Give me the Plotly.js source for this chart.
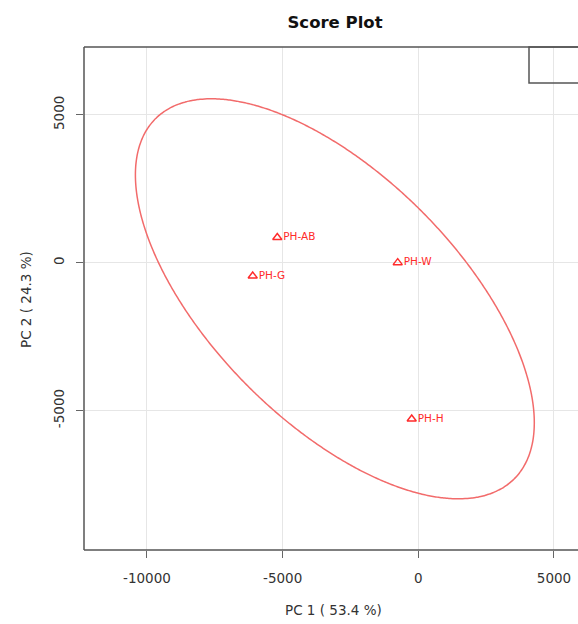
<!DOCTYPE html>
<html>
<head>
<meta charset="utf-8">
<script src="https://cdn.plot.ly/plotly-3.0.1.min.js"></script>
<style>html,body{margin:0;padding:0;background:#fff;}</style>
</head>
<body>
<div id="chart" style="width:578px;height:624px;"></div>
<script>
// Sample scores (PC1, PC2)
const sampleNames = ["PH-AB", "PH-G", "PH-W", "PH-H"];
const pc1Scores = [-5197, -6103, -759, -243];
const pc2Scores = [852, -450, 0, -5286];
const xTicks = [-10000, -5000, 0, 5000];
const yTicks = [-5000, 0, 5000];
const xTickLabels = ["-10000", "-5000", "0", "5000"];
const yTickLabels = ["-5000", "0", "5000"];
const confLevel = 0.95;

// 95% confidence ellipse computed from the score data (as ellipse::ellipse does)
function mean(a){return a.reduce((s,v)=>s+v,0)/a.length;}
const n = pc1Scores.length;
const mx = mean(pc1Scores), my = mean(pc2Scores);
let sxx=0, syy=0, sxy=0;
for(let i=0;i<n;i++){
  const dx=pc1Scores[i]-mx, dy=pc2Scores[i]-my;
  sxx+=dx*dx; syy+=dy*dy; sxy+=dx*dy;
}
sxx/=(n-1); syy/=(n-1); sxy/=(n-1);
const sx=Math.sqrt(sxx), sy=Math.sqrt(syy), r=sxy/(sx*sy);
const t=Math.sqrt(-2*Math.log(1-confLevel)); // sqrt(qchisq(level,2))
const d=Math.acos(r);
const ex=[], ey=[];
for(let k=0;k<=400;k++){
  const a=-Math.PI + 2*Math.PI*k/400;
  ex.push(mx + t*sx*Math.cos(a + d/2));
  ey.push(my + t*sy*Math.cos(a - d/2));
}

const red = '#FF2A2A';
const traces = [
  {x: ex, y: ey, mode:'lines', type:'scatter', line:{color:'#F26B6B', width:1.5, shape:'spline', smoothing:0.6}, hoverinfo:'skip', showlegend:false},
  {x: pc1Scores, y: pc2Scores, text: sampleNames, mode:'markers+text', type:'scatter',
   textposition:'middle right', textfont:{family:'DejaVu Sans', size:10.5, color:red},
   marker:{symbol:'triangle-up-open', size:8, color:red, line:{width:1.4, color:red}},
   showlegend:false}
];

const layout = {
  width:578, height:624,
  margin:{l:84, r:0, t:47, b:74},
  paper_bgcolor:'#fff', plot_bgcolor:'#fff',
  font:{family:'DejaVu Sans', size:11, color:'#333'},
  title:{text:'<b>Score Plot</b>', font:{family:'DejaVu Sans', size:16.5, color:'#111'},
         x:(335-84)/494, xref:'paper', xanchor:'center', y:1-22/624, yref:'container', yanchor:'middle'},
  xaxis:{range:[-12321, 5886], tickvals:xTicks, ticktext:xTickLabels, showgrid:true, gridcolor:'#e6e6e6', gridwidth:1,
         zeroline:false, showline:false, ticks:'outside', ticklen:7, tickcolor:'#666', tickwidth:1,
         tickfont:{family:'DejaVu Sans', size:13.5, color:'#333'}, ticklabelstandoff:9},
  yaxis:{range:[-9716, 7294], tickvals:yTicks, ticktext:yTickLabels, showgrid:true, gridcolor:'#e6e6e6', gridwidth:1,
         zeroline:false, showline:false, ticks:'outside', ticklen:7, tickcolor:'#666', tickwidth:1, tickangle:-90,
         tickfont:{family:'DejaVu Sans', size:13.5, color:'#333'}, ticklabelstandoff:7},
  annotations:[
    {text:'PC 1 ( 53.4 %)', xref:'paper', yref:'paper', x:(333-84)/494, y:(550-610)/503, xanchor:'center', yanchor:'middle',
     showarrow:false, font:{family:'DejaVu Sans', size:13.5, color:'#333'}},
    {text:'PC 2 ( 24.3 %)', xref:'paper', yref:'paper', x:(26-84)/494, y:(550-300)/503, xanchor:'center', yanchor:'middle',
     textangle:-90, showarrow:false, font:{family:'DejaVu Sans', size:13.5, color:'#333'}}
  ],
  shapes:[
    {type:'line', xref:'paper', yref:'paper', x0:0, x1:1.01, y0:1, y1:1, line:{color:'#555', width:1.5}},
    {type:'line', xref:'paper', yref:'paper', x0:0, x1:1.01, y0:0, y1:0, line:{color:'#555', width:1.5}},
    {type:'line', xref:'paper', yref:'paper', x0:0, x1:0, y0:0, y1:1, line:{color:'#555', width:1.5}},
    {type:'rect', xref:'paper', yref:'paper', x0:(529-84)/494, x1:1.05, y0:1-(83-47)/503, y1:1, line:{color:'#555', width:1.5}, fillcolor:'rgba(255,255,255,0)'}
  ]
};
Plotly.newPlot('chart', traces, layout, {displayModeBar:false, staticPlot:true});
</script>
</body>
</html>
